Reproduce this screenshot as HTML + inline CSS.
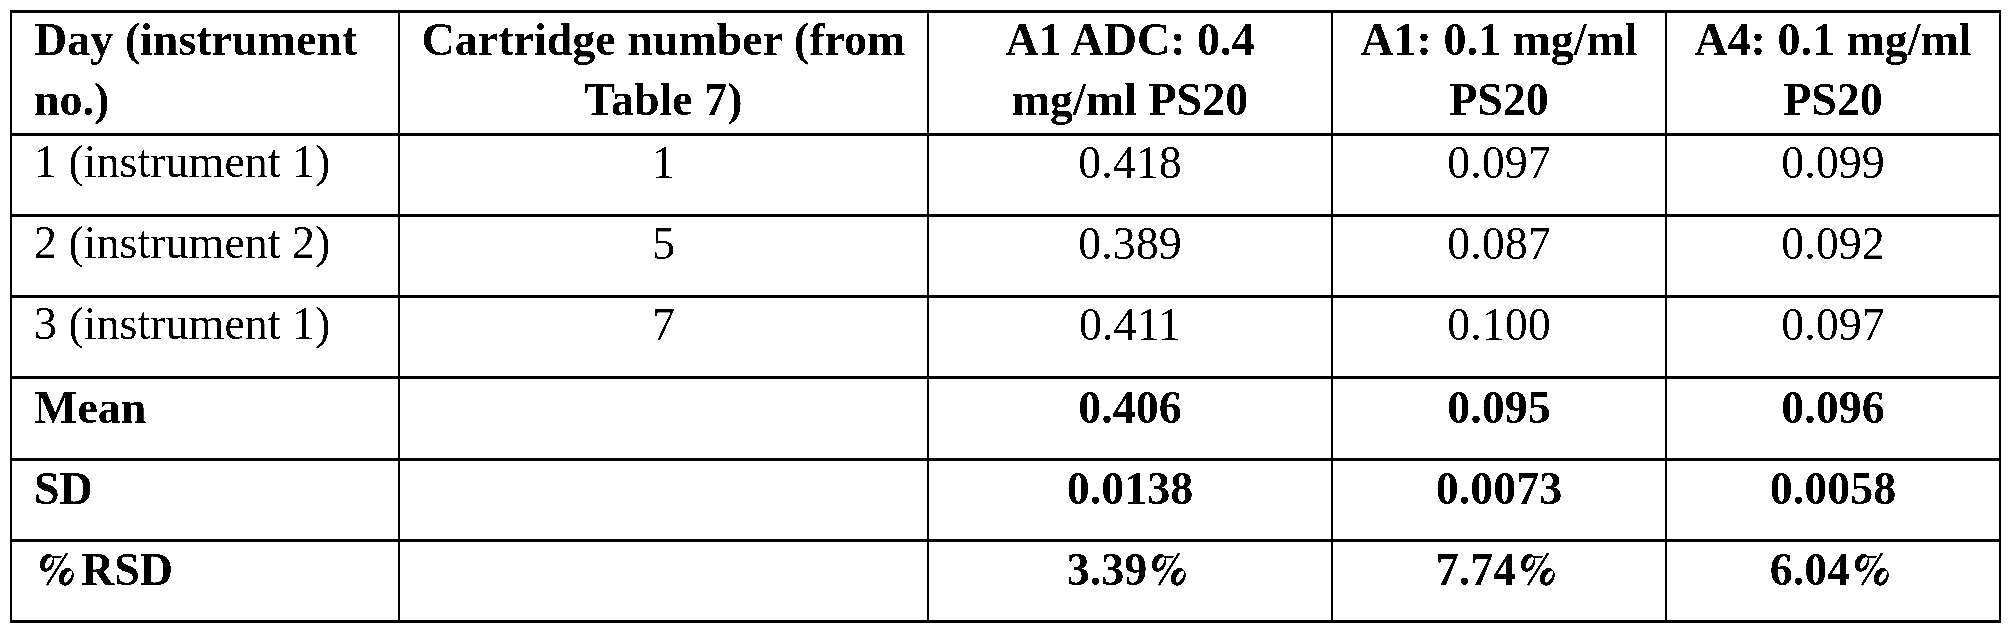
<!DOCTYPE html>
<html><head><meta charset="utf-8"><title>Table</title>
<style>
html,body{margin:0;padding:0;background:#fff;}
body{width:2012px;height:634px;position:relative;overflow:hidden;font-family:"Liberation Serif",serif;font-size:46px;line-height:60px;color:#000;}
.h{position:absolute;left:10px;width:1991px;height:3px;background:#000;}
.v{position:absolute;top:10px;width:2px;height:613px;background:#000;}
.t{position:absolute;white-space:nowrap;height:60px;}
#w{position:absolute;left:0;top:0;width:2012px;height:634px;background:#fff;filter:grayscale(1) contrast(12);}
.c{text-align:center;}
.b{font-weight:bold;}
.pc{display:inline-block;width:46px;height:0;position:relative;}
.pc svg{position:absolute;left:0;top:-40px;width:46px;height:46px;overflow:visible;}
</style></head><body><div id="w">

<div class="h" style="top:10px"></div>
<div class="h" style="top:133px"></div>
<div class="h" style="top:214px"></div>
<div class="h" style="top:295px"></div>
<div class="h" style="top:376px"></div>
<div class="h" style="top:458px"></div>
<div class="h" style="top:539px"></div>
<div class="h" style="top:620px"></div>
<div class="v" style="left:10px"></div>
<div class="v" style="left:398px"></div>
<div class="v" style="left:927px"></div>
<div class="v" style="left:1331px"></div>
<div class="v" style="left:1665px"></div>
<div class="v" style="left:1999px"></div>
<div class="t b" style="left:34px;top:10px">Day (instrument</div>
<div class="t b" style="left:34px;top:70px">no.)</div>
<div class="t b c" style="left:400px;width:527px;top:10px">Cartridge number (from</div>
<div class="t b c" style="left:400px;width:527px;top:70px">Table 7)</div>
<div class="t b c" style="left:929px;width:402px;top:10px">A1 ADC: 0.4</div>
<div class="t b c" style="left:929px;width:402px;top:70px">mg/ml PS20</div>
<div class="t b c" style="left:1333px;width:332px;top:10px">A1: 0.1 mg/ml</div>
<div class="t b c" style="left:1333px;width:332px;top:70px">PS20</div>
<div class="t b c" style="left:1667px;width:332px;top:10px">A4: 0.1 mg/ml</div>
<div class="t b c" style="left:1667px;width:332px;top:70px">PS20</div>
<div class="t" style="left:34px;top:132px">1 (instrument 1)</div>
<div class="t c" style="left:400px;width:527px;top:133px">1</div>
<div class="t c" style="left:929px;width:402px;top:133px">0.418</div>
<div class="t c" style="left:1333px;width:332px;top:133px">0.097</div>
<div class="t c" style="left:1667px;width:332px;top:133px">0.099</div>
<div class="t" style="left:34px;top:213px">2 (instrument 2)</div>
<div class="t c" style="left:400px;width:527px;top:214px">5</div>
<div class="t c" style="left:929px;width:402px;top:214px">0.389</div>
<div class="t c" style="left:1333px;width:332px;top:214px">0.087</div>
<div class="t c" style="left:1667px;width:332px;top:214px">0.092</div>
<div class="t" style="left:34px;top:294px">3 (instrument 1)</div>
<div class="t c" style="left:400px;width:527px;top:295px">7</div>
<div class="t c" style="left:929px;width:402px;top:295px">0.411</div>
<div class="t c" style="left:1333px;width:332px;top:295px">0.100</div>
<div class="t c" style="left:1667px;width:332px;top:295px">0.097</div>
<div class="t b" style="left:34px;top:378px">Mean</div>
<div class="t b c" style="left:929px;width:402px;top:378px">0.406</div>
<div class="t b c" style="left:1333px;width:332px;top:378px">0.095</div>
<div class="t b c" style="left:1667px;width:332px;top:378px">0.096</div>
<div class="t b" style="left:34px;top:459px">SD</div>
<div class="t b c" style="left:929px;width:402px;top:459px">0.0138</div>
<div class="t b c" style="left:1333px;width:332px;top:459px">0.0073</div>
<div class="t b c" style="left:1667px;width:332px;top:459px">0.0058</div>
<div class="t b" style="left:35px;top:540px"><span class="pc"><svg viewBox="0 0 46 46"><ellipse cx="12" cy="17.95" rx="6.93" ry="9.18" transform="rotate(24 12 17.95)"/><ellipse cx="13.6" cy="17.7" rx="2.8" ry="6.6" transform="rotate(30 13.6 17.7)" fill="#fff"/><ellipse cx="31.3" cy="31.8" rx="7.1" ry="9.1" transform="rotate(24 31.3 31.8)"/><ellipse cx="32.9" cy="31.6" rx="2.8" ry="6.6" transform="rotate(30 32.9 31.6)" fill="#fff"/><rect x="18.45" y="10.7" width="8.2" height="1.9"/><line x1="31.6" y1="8.8" x2="12.4" y2="39.3" stroke="#000" stroke-width="2.3" stroke-linecap="round"/></svg></span>RSD</div>
<div class="t b c" style="left:929px;width:402px;top:540px">3.39<span class="pc"><svg viewBox="0 0 46 46"><ellipse cx="12" cy="17.95" rx="6.93" ry="9.18" transform="rotate(24 12 17.95)"/><ellipse cx="13.6" cy="17.7" rx="2.8" ry="6.6" transform="rotate(30 13.6 17.7)" fill="#fff"/><ellipse cx="31.3" cy="31.8" rx="7.1" ry="9.1" transform="rotate(24 31.3 31.8)"/><ellipse cx="32.9" cy="31.6" rx="2.8" ry="6.6" transform="rotate(30 32.9 31.6)" fill="#fff"/><rect x="18.45" y="10.7" width="8.2" height="1.9"/><line x1="31.6" y1="8.8" x2="12.4" y2="39.3" stroke="#000" stroke-width="2.3" stroke-linecap="round"/></svg></span></div>
<div class="t b c" style="left:1333px;width:332px;top:540px">7.74<span class="pc"><svg viewBox="0 0 46 46"><ellipse cx="12" cy="17.95" rx="6.93" ry="9.18" transform="rotate(24 12 17.95)"/><ellipse cx="13.6" cy="17.7" rx="2.8" ry="6.6" transform="rotate(30 13.6 17.7)" fill="#fff"/><ellipse cx="31.3" cy="31.8" rx="7.1" ry="9.1" transform="rotate(24 31.3 31.8)"/><ellipse cx="32.9" cy="31.6" rx="2.8" ry="6.6" transform="rotate(30 32.9 31.6)" fill="#fff"/><rect x="18.45" y="10.7" width="8.2" height="1.9"/><line x1="31.6" y1="8.8" x2="12.4" y2="39.3" stroke="#000" stroke-width="2.3" stroke-linecap="round"/></svg></span></div>
<div class="t b c" style="left:1667px;width:332px;top:540px">6.04<span class="pc"><svg viewBox="0 0 46 46"><ellipse cx="12" cy="17.95" rx="6.93" ry="9.18" transform="rotate(24 12 17.95)"/><ellipse cx="13.6" cy="17.7" rx="2.8" ry="6.6" transform="rotate(30 13.6 17.7)" fill="#fff"/><ellipse cx="31.3" cy="31.8" rx="7.1" ry="9.1" transform="rotate(24 31.3 31.8)"/><ellipse cx="32.9" cy="31.6" rx="2.8" ry="6.6" transform="rotate(30 32.9 31.6)" fill="#fff"/><rect x="18.45" y="10.7" width="8.2" height="1.9"/><line x1="31.6" y1="8.8" x2="12.4" y2="39.3" stroke="#000" stroke-width="2.3" stroke-linecap="round"/></svg></span></div>
</div></body></html>
